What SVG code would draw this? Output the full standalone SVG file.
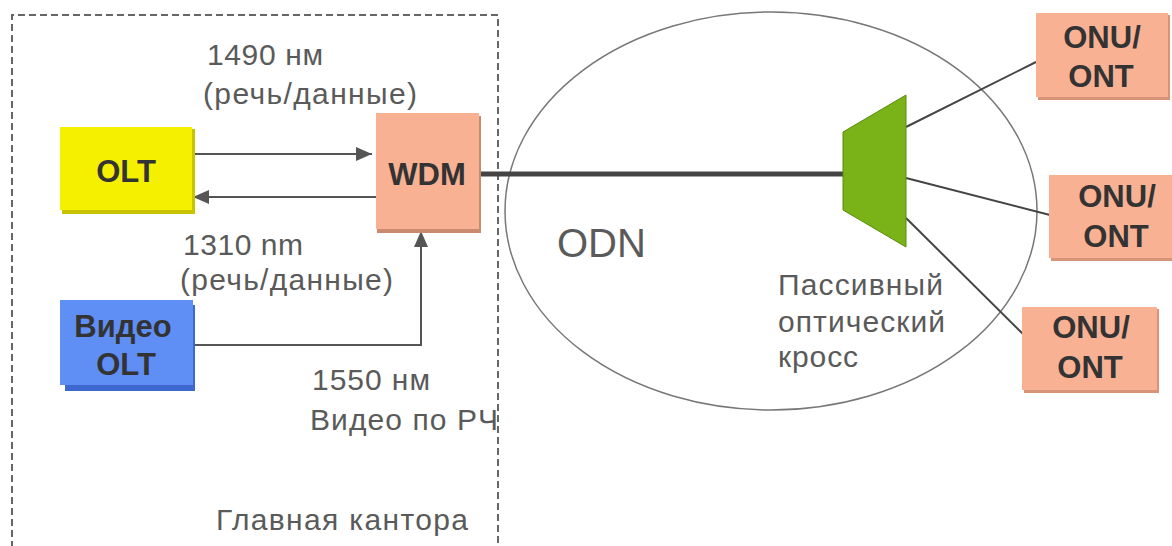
<svg xmlns="http://www.w3.org/2000/svg" width="1172" height="546" viewBox="0 0 1172 546">
  <defs>
    <style>
      .lbl { font-family: "Liberation Sans", Arial, sans-serif; font-size: 30px; fill: #5a5a5a; }
      .node-txt { font-family: "Liberation Sans", Arial, sans-serif; font-size: 31px; font-weight: bold; fill: #333; text-anchor: middle; }
      .wire { stroke: #555; stroke-width: 2; fill: none; }
      .drop { stroke: #444; stroke-width: 2; fill: none; }
    </style>
    <marker id="arrowhead" viewBox="0 0 16 14" refX="16" refY="7" markerWidth="16" markerHeight="14" markerUnits="userSpaceOnUse" orient="auto">
      <path d="M0,0 L16,7 L0,14 z" fill="#555"/>
    </marker>
  </defs>

  <rect width="1172" height="546" fill="#fff"/>

  <!-- central office boundary -->
  <path d="M12,548 V15 H498 V548" fill="none" stroke="#666" stroke-width="2" stroke-dasharray="7,4"/>

  <!-- optical distribution network -->
  <ellipse cx="771" cy="211" rx="266" ry="199" fill="none" stroke="#777" stroke-width="1.5"/>

  <!-- connectors -->
  <g id="connectors">
    <line class="wire" x1="193" y1="154" x2="372" y2="154" marker-end="url(#arrowhead)"/>
    <line class="wire" x1="376" y1="197" x2="193" y2="197" marker-end="url(#arrowhead)"/>
    <polyline class="wire" points="193,345 421,345 421,231" marker-end="url(#arrowhead)"/>
    <line x1="480" y1="174" x2="845" y2="174" stroke="#444" stroke-width="5"/>
    <line class="drop" x1="906" y1="127" x2="1036" y2="62"/>
    <line class="drop" x1="906" y1="178" x2="1050" y2="215"/>
    <line class="drop" x1="906" y1="218" x2="1023" y2="334"/>
  </g>

  <g id="olt">
    <rect x="62" y="129" width="133" height="85" fill="#c8c400"/>
    <rect x="60" y="127" width="132" height="83" fill="#f5f000"/>
    <text class="node-txt" x="126" y="182">OLT</text>
  </g>

  <g id="wdm">
    <rect x="377" y="116" width="104" height="117" fill="#c98a70"/>
    <rect x="376" y="113" width="103" height="116" fill="#f9b193"/>
    <text class="node-txt" x="427" y="185">WDM</text>
  </g>

  <g id="video-olt">
    <rect x="65" y="305" width="130" height="86" fill="#3d68cf"/>
    <rect x="60" y="300" width="133" height="85" fill="#5f8ff5"/>
    <text class="node-txt" x="123" y="337">Видео</text>
    <text class="node-txt" x="126" y="375">OLT</text>
  </g>

  <g id="splitter">
    <polygon points="843,132 906,95 906,247 843,210" fill="#7ab317" stroke="#5d8a10" stroke-width="1"/>
  </g>

  <g id="onu1">
    <rect x="1038" y="15" width="132" height="85" fill="#d79479"/>
    <rect x="1036" y="13" width="132" height="84" fill="#f9b193"/>
    <text class="node-txt" x="1102" y="48">ONU/</text>
    <text class="node-txt" x="1101" y="87">ONT</text>
  </g>

  <g id="onu2">
    <rect x="1051" y="177" width="124" height="84" fill="#d79479"/>
    <rect x="1049" y="175" width="124" height="83" fill="#f9b193"/>
    <text class="node-txt" x="1117" y="207">ONU/</text>
    <text class="node-txt" x="1116" y="247">ONT</text>
  </g>

  <g id="onu3">
    <rect x="1024" y="309" width="135" height="84" fill="#d79479"/>
    <rect x="1022" y="307" width="135" height="83" fill="#f9b193"/>
    <text class="node-txt" x="1091" y="338">ONU/</text>
    <text class="node-txt" x="1090" y="378">ONT</text>
  </g>

  <!-- labels -->
  <text class="lbl" x="207" y="65" textLength="116">1490 нм</text>
  <text class="lbl" x="203" y="104" textLength="214">(речь/данные)</text>
  <text class="lbl" x="183" y="255" textLength="120">1310 nm</text>
  <text class="lbl" x="180" y="290" textLength="213">(речь/данные)</text>
  <text class="lbl" x="312" y="390" textLength="118">1550 нм</text>
  <text class="lbl" x="310" y="430" textLength="188">Видео по РЧ</text>
  <text class="lbl" x="216" y="530" textLength="252">Главная кантора</text>
  <text class="lbl" x="557" y="257" style="font-size:40px">ODN</text>
  <text class="lbl" x="778" y="295" textLength="165">Пассивный</text>
  <text class="lbl" x="778" y="332" textLength="167">оптический</text>
  <text class="lbl" x="778" y="367" textLength="80">кросс</text>
</svg>
